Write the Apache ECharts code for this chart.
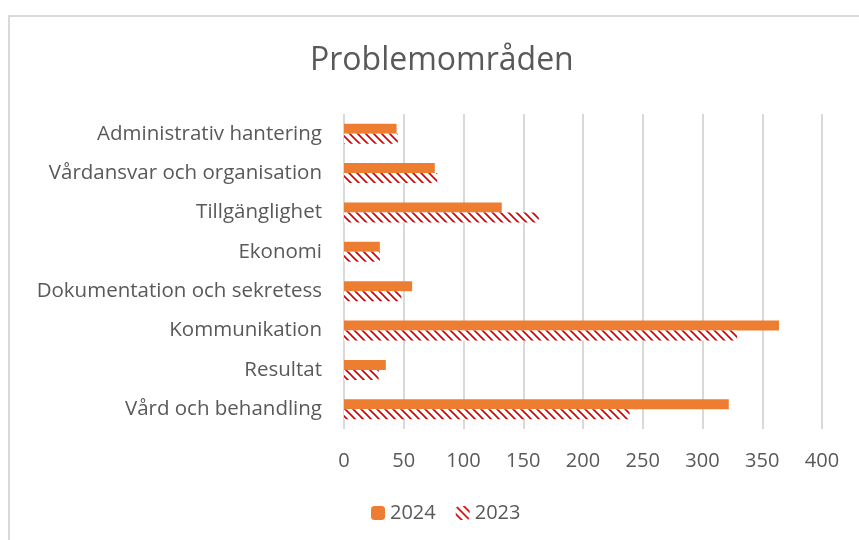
<!DOCTYPE html>
<html>
<head>
<meta charset="utf-8">
<script src="https://cdn.jsdelivr.net/npm/echarts@6/dist/echarts.min.js"></script>
<style>
html,body{margin:0;padding:0;background:#fff;}
#frame{position:absolute;left:8px;top:15px;width:860px;height:540px;border-left:2px solid #d9d9d9;border-top:2px solid #d9d9d9;}
#chart{position:absolute;left:0;top:0;width:859px;height:540px;}
</style>
</head>
<body>
<div id="frame"></div>
<div id="chart"></div>
<script>
var categories = ["Administrativ hantering","Vårdansvar och organisation","Tillgänglighet","Ekonomi","Dokumentation och sekretess","Kommunikation","Resultat","Vård och behandling"];
var values2024 = [44, 76, 132, 30, 57, 364, 35, 322];
var values2023 = [45, 78, 163, 30, 48, 329, 29, 239];
var seriesNames = ["2024", "2023"];
var xTicks = [0, 50, 100, 150, 200, 250, 300, 350, 400];

function hatch(){
  var c = document.createElement('canvas');
  c.width = 8; c.height = 8;
  var g = c.getContext('2d');
  g.fillStyle = '#ffffff';
  g.fillRect(0,0,8,8);
  g.strokeStyle = '#d00000';
  g.lineWidth = 1.6;
  g.beginPath();
  g.moveTo(-2,-2); g.lineTo(10,10);
  g.moveTo(-6,2); g.lineTo(2,10);
  g.moveTo(2,-6); g.lineTo(10,2);
  g.stroke();
  return c;
}
var pattern = {image: hatch(), repeat: 'repeat'};

var chart = echarts.init(document.getElementById('chart'), null, {renderer:'canvas'});
var font = 'Open Sans';
chart.setOption({
  animation: false,
  title: {
    text: 'Problemområden', left: 305, top: 40,
    textStyle: {fontFamily: font, fontSize: 32, fontWeight: 'normal', color: '#595959'}
  },
  legend: {
    bottom: 12, left: 366, itemWidth: 14, itemHeight: 14, itemGap: 20,
    data: seriesNames,
    textStyle: {fontFamily: font, fontSize: 20, color: '#595959'}
  },
  grid: {left: 344, right: 37, top: 114, bottom: 111, containLabel: false},
  xAxis: {
    type: 'value', min: xTicks[0], max: xTicks[xTicks.length-1], interval: 50,
    axisLine: {show: false}, axisTick: {show: false},
    splitLine: {lineStyle: {color: '#d9d9d9', width: 2}},
    axisLabel: {fontFamily: font, fontSize: 20, color: '#595959', margin: 22}
  },
  yAxis: {
    type: 'category', data: categories, inverse: true,
    axisLine: {show: false}, axisTick: {show: false},
    axisLabel: {fontFamily: font, fontSize: 20.5, color: '#595959', margin: 22}
  },
  series: [
    {name: seriesNames[0], type: 'bar', data: values2024, barWidth: 10, barGap: '0%',
     itemStyle: {color: '#ed7d31'}},
    {name: seriesNames[1], type: 'bar', data: values2023, barWidth: 10, barGap: '0%',
     itemStyle: {color: pattern}}
  ]
});
</script>
</body>
</html>
